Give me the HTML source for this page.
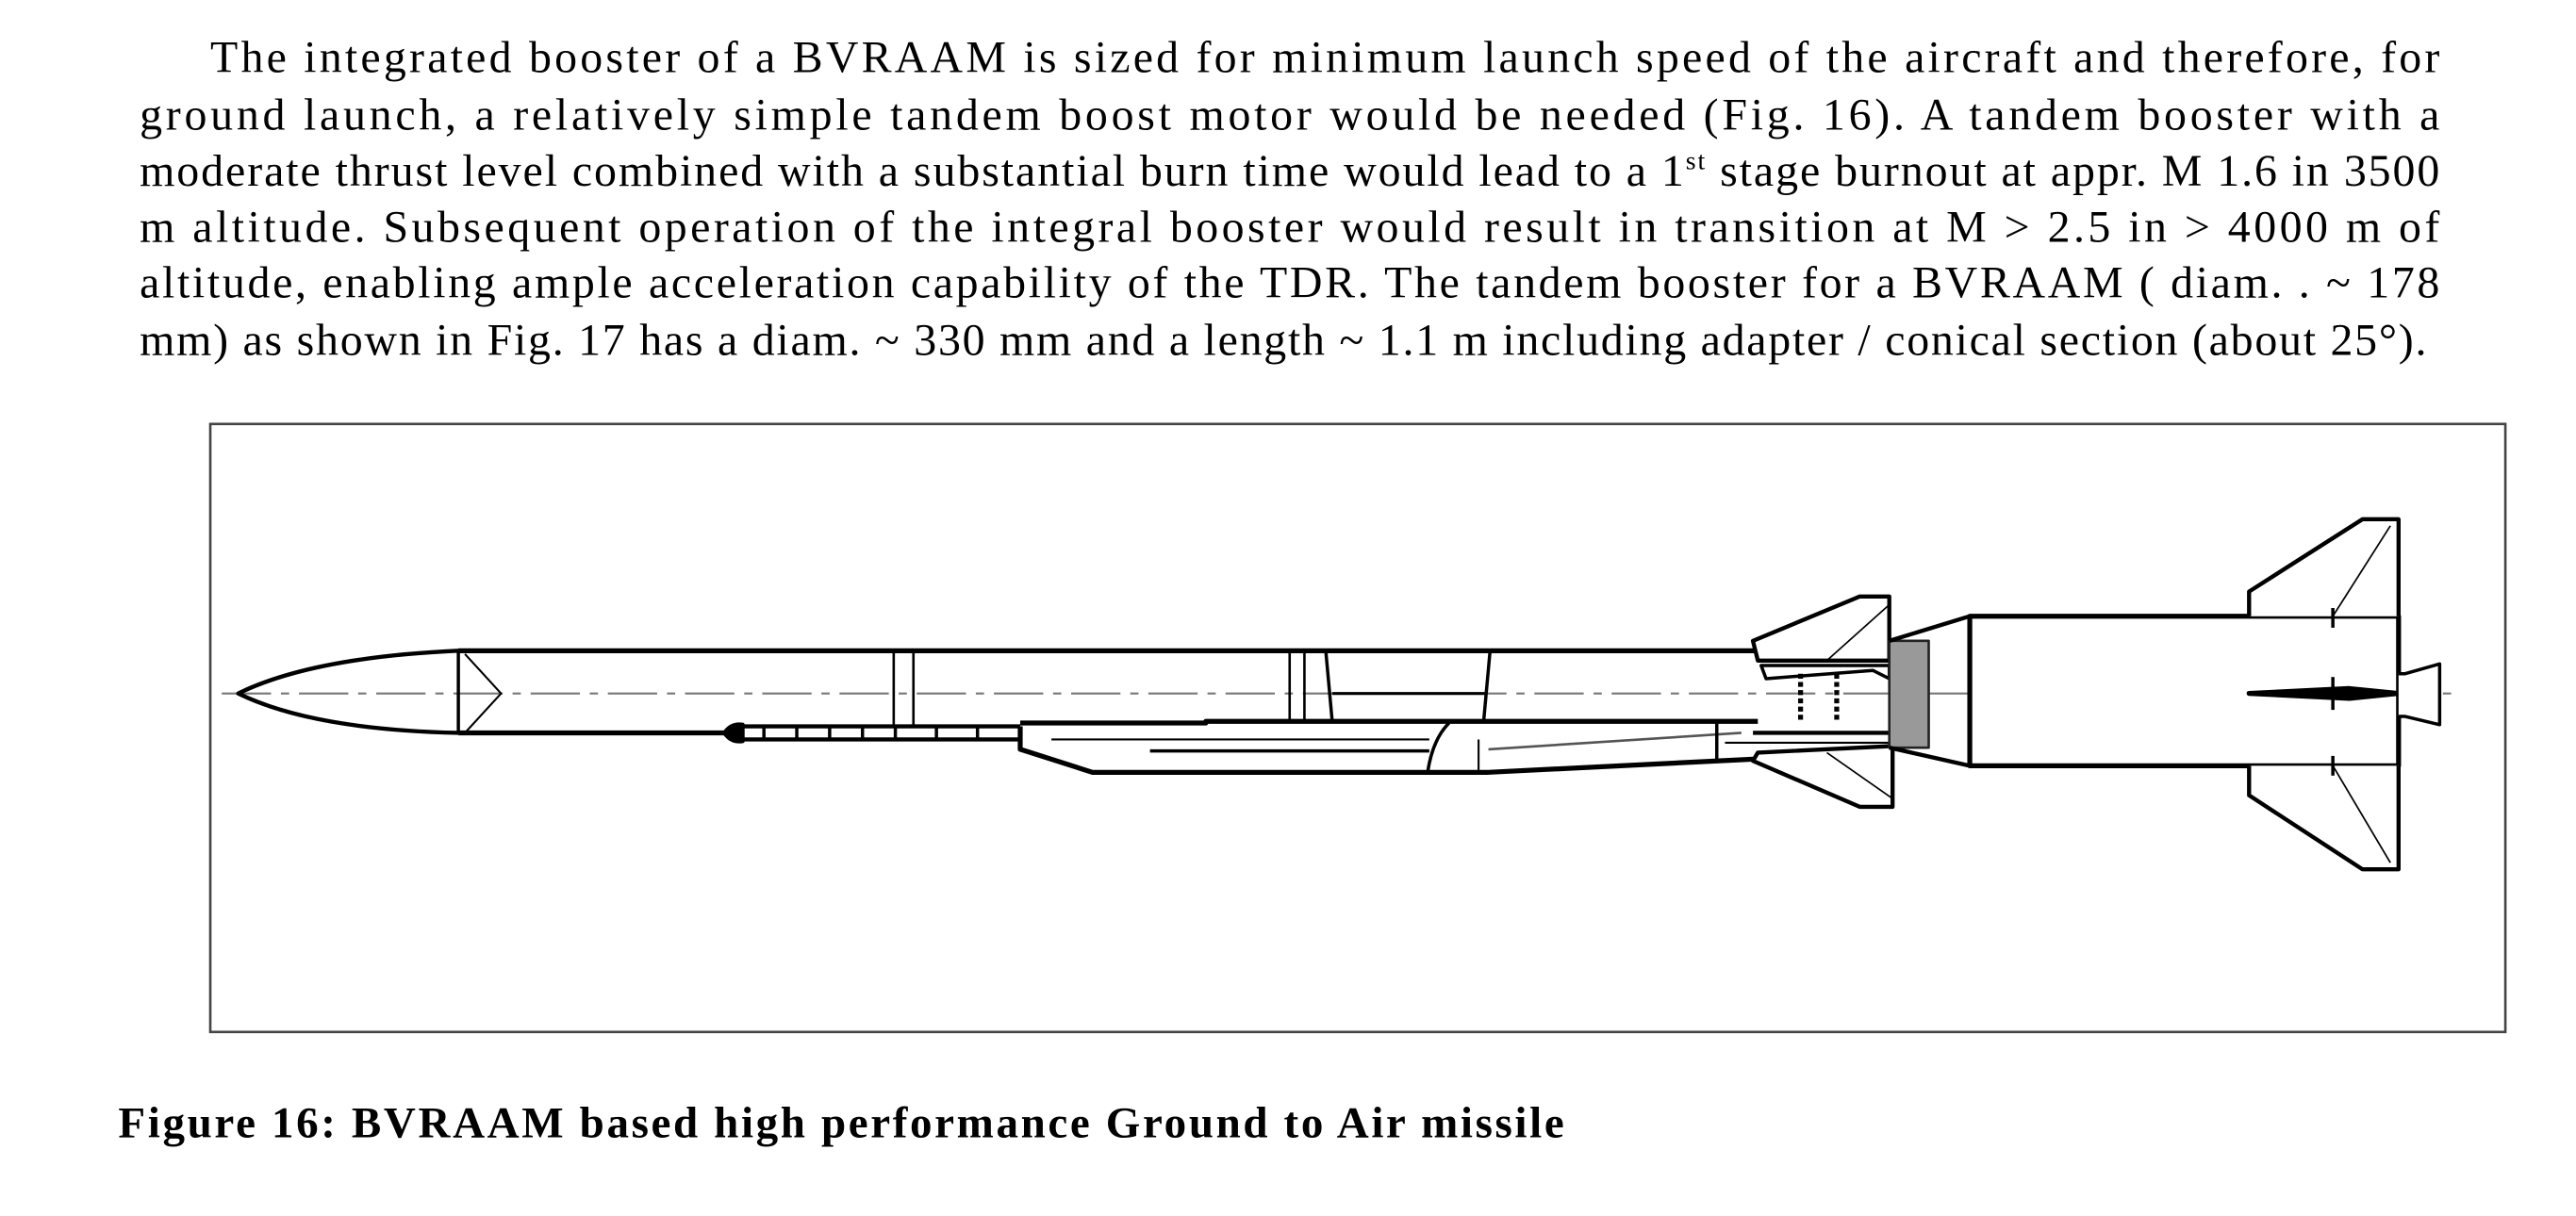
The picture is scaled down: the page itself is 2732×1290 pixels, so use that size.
<!DOCTYPE html>
<html><head><meta charset="utf-8"><style>
html,body{margin:0;padding:0;background:#fff;}
svg{display:block;}
text{font-family:"Liberation Serif",serif;fill:#000;}
</style></head><body>
<svg width="2732" height="1290" viewBox="0 0 1568 740" preserveAspectRatio="none" xmlns="http://www.w3.org/2000/svg">
<g font-size="27.5">
<text x="128" y="44" textLength="1357" lengthAdjust="spacing">The integrated booster of a BVRAAM is sized for minimum launch speed of the aircraft and therefore, for</text>
<text x="85" y="79" textLength="1400" lengthAdjust="spacing">ground launch, a relatively simple tandem boost motor would be needed (Fig. 16).  A tandem booster with a</text>
<text x="85" y="113" textLength="1400" lengthAdjust="spacing">moderate thrust level combined with a substantial burn time would lead to a 1<tspan font-size="16" dy="-10">st</tspan><tspan dy="10"> stage burnout at appr. M 1.6 in 3500</tspan></text>
<text x="85" y="147" textLength="1400" lengthAdjust="spacing">m altitude. Subsequent operation of the integral booster would  result in  transition at M &gt; 2.5 in &gt; 4000 m of</text>
<text x="85" y="181" textLength="1400" lengthAdjust="spacing">altitude, enabling ample acceleration capability of the TDR. The tandem booster for a BVRAAM ( diam. . ~ 178</text>
<text x="85" y="216" textLength="1392" lengthAdjust="spacing">mm) as shown in Fig. 17 has a diam. ~ 330 mm and a length ~ 1.1 m including adapter / conical section (about 25°).</text>
</g>
<text x="72" y="692" font-size="27" font-weight="bold" textLength="880" lengthAdjust="spacing">Figure 16:  BVRAAM based high performance Ground to Air missile</text>

<rect x="128" y="258" width="1397" height="370" fill="none" stroke="#444" stroke-width="1.5"/>

<line x1="135" y1="422" x2="1492" y2="422" stroke="#777" stroke-width="1.2" stroke-dasharray="30 6 5 6"/>

<g fill="none" stroke="#000" stroke-width="2.5" stroke-linejoin="round">
<path d="M279 396 Q190 400 145 422 Q190 444 279 446"/>
<line x1="279" y1="396" x2="279" y2="446" stroke-width="2"/>
<polyline points="283,398 305,422 283,446" stroke-width="1.2"/>
<line x1="279" y1="396" x2="1070" y2="396" stroke-width="3"/>
<line x1="279" y1="446" x2="445" y2="446" stroke-width="3"/>
<line x1="544" y1="396" x2="544" y2="442" stroke-width="1.5"/>
<line x1="556" y1="396" x2="556" y2="442" stroke-width="1.5"/>
<line x1="785" y1="396" x2="785" y2="440" stroke-width="1.5"/>
<line x1="794" y1="396" x2="794" y2="440" stroke-width="1.5"/>
<line x1="807" y1="396" x2="811" y2="440" stroke-width="2"/>
<line x1="907" y1="396" x2="903" y2="440" stroke-width="2"/>
<line x1="811" y1="422" x2="904" y2="422" stroke-width="1.8"/>
<path d="M448 442 L621 442 M448 450 L621 450" stroke-width="2.5"/>
<path d="M441 446 Q445 440 452 441 L452 451 Q445 452 441 446Z" fill="#000"/>
<g stroke-width="2"><line x1="465" y1="442" x2="465" y2="450"/><line x1="485" y1="442" x2="485" y2="450"/><line x1="505" y1="442" x2="505" y2="450"/><line x1="525" y1="442" x2="525" y2="450"/><line x1="545" y1="442" x2="545" y2="450"/><line x1="570" y1="442" x2="570" y2="450"/><line x1="595" y1="442" x2="595" y2="450"/></g>
<path d="M621 442 L621 456 L665 470 L906 470 L1067 462" stroke-width="3"/>
<path d="M621 440 L734 440 L734 439 L1070 439" stroke-width="3"/>
<line x1="640" y1="450" x2="870" y2="450" stroke-width="1.2"/>
<line x1="700" y1="457" x2="870" y2="457" stroke-width="2"/>
<path d="M882 440 Q872 450 869 470" stroke-width="2"/>
<line x1="900" y1="450" x2="900" y2="470" stroke-width="1.2"/>
<line x1="906" y1="456" x2="1060" y2="446" stroke-width="1.5" stroke="#555"/>
<line x1="1045" y1="440" x2="1045" y2="462" stroke-width="2"/>
<line x1="1067" y1="446" x2="1150" y2="446" stroke-width="2.5"/>
<line x1="1050" y1="452" x2="1150" y2="452" stroke-width="1.2"/>
<path d="M1067 390 L1132 363 L1150 363 L1150 402 L1070 402 Z" fill="#fff"/>
<line x1="1150" y1="368" x2="1112" y2="402" stroke-width="1"/>
<path d="M1072 405 L1150 405 L1150 413 L1140 408 L1075 413 Z" stroke-width="2"/>
<path d="M1067 463 L1132 491 L1152 491 L1152 454 L1070 458 Z" fill="#fff"/>
<line x1="1152" y1="486" x2="1112" y2="458" stroke-width="1"/>
<path d="M1096 410 L1096 440 M1118 410 L1118 440" stroke-width="3" stroke-dasharray="3 2"/>
<rect x="1150" y="390" width="24" height="65" fill="#999" stroke="#222" stroke-width="1.5"/>
<path d="M1150 390 L1199 375 L1199 466 L1150 455" fill="none"/>
<rect x="1199" y="375" width="261" height="91" fill="#fff" stroke-width="3"/>
<path d="M1369 375 L1369 360 L1438 316 L1460 316 L1460 375" fill="#fff"/>
<line x1="1455" y1="320" x2="1420" y2="375" stroke-width="1"/>
<path d="M1369 466 L1369 484 L1438 529 L1460 529 L1460 466" fill="#fff"/>
<line x1="1455" y1="525" x2="1420" y2="466" stroke-width="1"/>
<line x1="1420" y1="370" x2="1420" y2="382" stroke-width="2"/>
<line x1="1420" y1="460" x2="1420" y2="472" stroke-width="2"/>
<path d="M1369 422 L1430 419 L1460 422 L1430 425 Z" fill="#000" stroke-width="3"/>
<line x1="1420" y1="412" x2="1420" y2="432" stroke-width="2"/>
<path d="M1460 410 L1464 410 L1485 404 L1485 441 L1464 436 L1460 436" fill="#fff" stroke-width="2"/>
</g>
</svg>
</body></html>
